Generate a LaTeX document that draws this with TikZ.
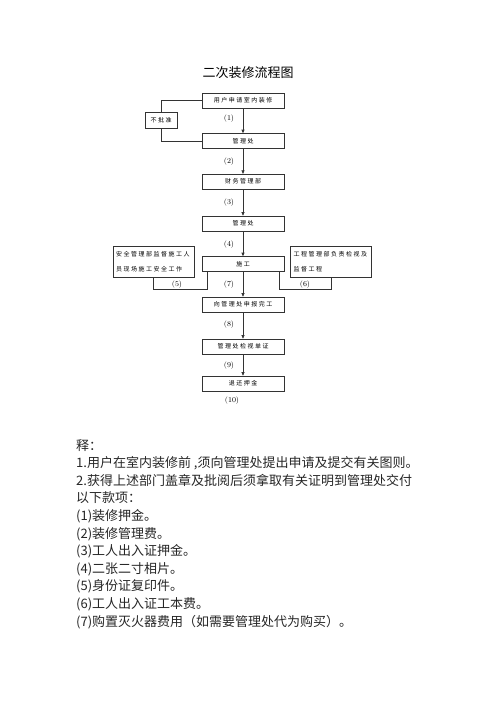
\documentclass[tikz,border=0pt]{standalone}
\usepackage{fontspec}
\newfontfamily\cjk{Noto Sans CJK SC}
\newfontfamily\cjkbox[LetterSpace=25]{Noto Sans CJK SC}
\usetikzlibrary{arrows.meta}
\begin{document}
\begin{tikzpicture}
[x=1pt,y=-1pt,
  stepbox/.style={shape=rectangle,draw=black!80,line width=0.6pt,minimum width=82pt,minimum height=15pt,inner sep=0pt,font=\cjkbox\fontsize{6}{8}\selectfont},%
  sidebox/.style={shape=rectangle,draw=black!80,line width=0.6pt,text width=75pt,align=left,minimum height=31pt,inner xsep=3pt,inner ysep=0pt,font=\cjkbox\fontsize{6}{15}\selectfont},%
  steplabel/.style={font=\fontsize{7.5}{9}\selectfont,inner sep=0pt},%
  linedecorate/.style={draw=black!80,line width=0.6pt},%
  arrowdecorate/.style={linedecorate,-{Triangle[length=3.5pt,width=3pt]}}]
\useasboundingbox (0,0) rectangle (496,702);
% title
\node (title) at (248,73) [font=\cjk\fontsize{13}{15}\selectfont] {二次装修流程图};
% nodes or vertices
\node (apply) at (243,100.7) [stepbox] {用户申请室内装修};
\node (reject) at (161,120) [stepbox,minimum width=32pt,minimum height=16pt] {不批准};
\node (mgmt1) at (243,141) [stepbox] {管理处};
\node (finance) at (243,181.7) [stepbox] {财务管理部};
\node (mgmt2) at (243,223.5) [stepbox] {管理处};
\node (build) at (243,264) [stepbox] {施工};
\node (safety) at (153.5,261.5) [sidebox] {安全管理部监督施工人\\员现场施工安全工作};
\node (eng) at (331,261.5) [sidebox] {工程管理部负责检视及\\监督工程};
\node (report) at (243,304.5) [stepbox] {向管理处申报完工};
\node (check) at (243,346.5) [stepbox] {管理处检视单证};
\node (refund) at (243,383.5) [stepbox] {退还押金};
\coordinate (joinL) at (153.5,289);
\coordinate (joinR) at (331,289);
% step numbers
\node at (229,119) [steplabel] {(1)};
\node at (229,162) [steplabel] {(2)};
\node at (229,203) [steplabel] {(3)};
\node at (229,245) [steplabel] {(4)};
\node at (177,285) [steplabel] {(5)};
\node at (305,285) [steplabel] {(6)};
\node at (229,285) [steplabel] {(7)};
\node at (229,325) [steplabel] {(8)};
\node at (229,366) [steplabel] {(9)};
\node at (232,401) [steplabel] {(10)};
% edges or lines
\draw[linedecorate] (apply.west) -| (reject.north);
\draw[linedecorate] (reject.south) |- (mgmt1.west);
\draw[arrowdecorate] (apply) -- (mgmt1);
\draw[arrowdecorate] (mgmt1) -- (finance);
\draw[arrowdecorate] (finance) -- (mgmt2);
\draw[arrowdecorate] (mgmt2) -- (build);
\draw[arrowdecorate] (build) -- (report);
\draw[arrowdecorate] (report) -- (check);
\draw[arrowdecorate] (check) -- (refund);
\draw[linedecorate] ([xshift=-36pt]build.south) |- (joinL) -- (safety.south);
\draw[linedecorate] ([xshift=36pt]build.south) |- (joinR) -- (eng.south);
% notes
\node (notes) at (76,439) [anchor=north west,inner sep=0pt,align=left,font=\cjk\fontsize{13}{17.6}\selectfont,text=black!85] {释：\\
1.用户在室内装修前 ,须向管理处提出申请及提交有关图则。\\
2.获得上述部门盖章及批阅后须拿取有关证明到管理处交付\\
以下款项：\\
(1)装修押金。\\
(2)装修管理费。\\
(3)工人出入证押金。\\
(4)二张二寸相片。\\
(5)身份证复印件。\\
(6)工人出入证工本费。\\
(7)购置灭火器费用（如需要管理处代为购买）。};
\end{tikzpicture}
\end{document}
